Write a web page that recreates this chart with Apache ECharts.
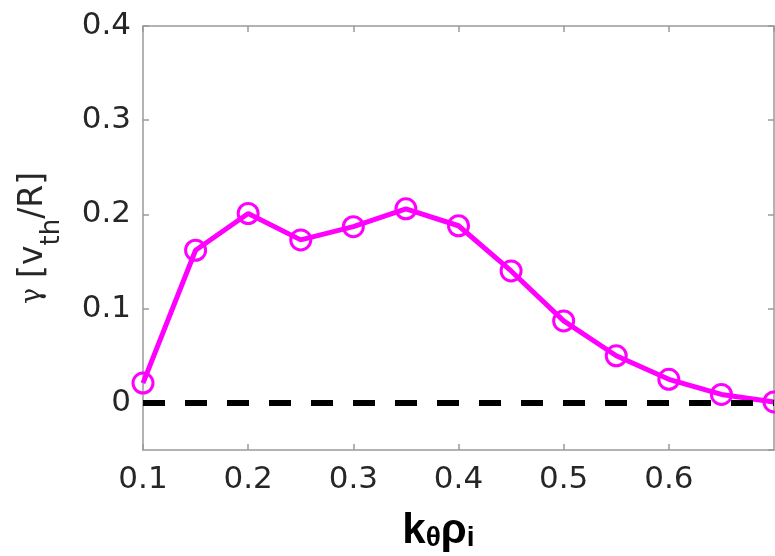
<!DOCTYPE html>
<html>
<head>
<meta charset="utf-8">
<script src="https://cdn.jsdelivr.net/npm/echarts@6/dist/echarts.min.js"></script>
<style>
  html, body { margin: 0; padding: 0; background: #fff; }
  #chart { width: 775px; height: 556px; }
</style>
</head>
<body>
<div id="chart"></div>
<script>
// Growth rate spectrum versus poloidal wavenumber
const kThetaRho = [0.1, 0.15, 0.2, 0.25, 0.3, 0.35, 0.4, 0.45, 0.5, 0.55, 0.6, 0.65, 0.7];
const growthRate = [0.021, 0.162, 0.201, 0.173, 0.187, 0.206, 0.188, 0.140, 0.087, 0.050, 0.025, 0.009, 0.001];
const zeroLineX = [0.1, 0.7];
const zeroLineY = [0, 0];

const axisGray = '#9a9a9a';
const labelColor = '#262626';
const tickFont = 'DejaVu Sans';

const chart = echarts.init(document.getElementById('chart'), null, { renderer: 'canvas' });

const hiddenLabels = { show: false };
const inTicks = { show: true, inside: true, length: 6, lineStyle: { color: axisGray, width: 1.5 } };

chart.setOption({
  animation: false,
  backgroundColor: '#fff',
  grid: { left: 143, right: 1, top: 26, bottom: 106, containLabel: false, outerBoundsMode: 'none' },
  xAxis: [
    {
      type: 'value', min: 0.1, max: 0.7, interval: 0.1, position: 'bottom',
      axisLine: { show: true, onZero: false, lineStyle: { color: axisGray, width: 1.5 } },
      axisTick: inTicks,
      splitLine: { show: false },
      axisLabel: { showMaxLabel: false, color: labelColor, fontFamily: tickFont, fontSize: 31, margin: 14 },
      name: '{b|k}{s|θ}{b|ρ}{s|i}',
      nameLocation: 'middle',
      nameGap: 44,
      nameTextStyle: {
        padding: [0, 40, 0, 0],
        rich: {
          b: { fontFamily: 'Liberation Sans', fontWeight: 'bold', fontSize: 42, lineHeight: 58, verticalAlign: 'bottom', color: '#000' },
          s: { fontFamily: 'Liberation Sans', fontWeight: 'bold', fontSize: 28, lineHeight: 28, verticalAlign: 'bottom', color: '#000' }
        }
      }
    },
    {
      type: 'value', min: 0.1, max: 0.7, interval: 0.1, position: 'top',
      axisLine: { show: true, onZero: false, lineStyle: { color: axisGray, width: 1.5 } },
      axisTick: inTicks,
      splitLine: { show: false },
      axisLabel: hiddenLabels
    }
  ],
  yAxis: [
    {
      type: 'value', min: -0.05, max: 0.4, splitNumber: 5, position: 'left',
      axisLine: { show: true, onZero: false, lineStyle: { color: axisGray, width: 1.5 } },
      axisTick: inTicks,
      splitLine: { show: false },
      axisLabel: { showMinLabel: false, color: labelColor, fontFamily: tickFont, fontSize: 31, margin: 12 },
      name: '{g|γ}{n|[v}{sub|th}{n|/R]}',
      nameLocation: 'middle',
      nameRotate: 90,
      nameGap: 78,
      nameTextStyle: {
        rich: {
          g: { fontFamily: 'DejaVu Serif', fontSize: 27, lineHeight: 48, verticalAlign: 'top', color: labelColor, padding: [2, 10, 0, 0] },
          n: { fontFamily: 'DejaVu Sans', fontSize: 33, lineHeight: 48, verticalAlign: 'top', color: labelColor },
          sub: { fontFamily: 'DejaVu Sans', fontSize: 26, lineHeight: 26, verticalAlign: 'top', color: labelColor, padding: [22, 0, 0, 0] }
        }
      }
    },
    {
      type: 'value', min: -0.05, max: 0.4, splitNumber: 5, position: 'right',
      axisLine: { show: true, onZero: false, lineStyle: { color: axisGray, width: 1.5 } },
      axisTick: inTicks,
      splitLine: { show: false },
      axisLabel: hiddenLabels
    }
  ],
  series: [
    {
      type: 'line',
      xAxisIndex: 0, yAxisIndex: 0,
      data: kThetaRho.map((k, i) => [k, growthRate[i]]),
      symbol: 'circle',
      symbolSize: 20,
      lineStyle: { color: '#ff00ff', width: 5 },
      itemStyle: { color: 'rgba(255,255,255,0)', borderColor: '#ff00ff', borderWidth: 3 },
      clip: false,
      z: 2
    },
    {
      type: 'line',
      xAxisIndex: 0, yAxisIndex: 0,
      data: zeroLineX.map((k, i) => [k, zeroLineY[i]]),
      symbol: 'none',
      lineStyle: { color: '#000', width: 6, type: [22, 20], cap: 'butt' },
      z: 3
    }
  ]
});
</script>
</body>
</html>
